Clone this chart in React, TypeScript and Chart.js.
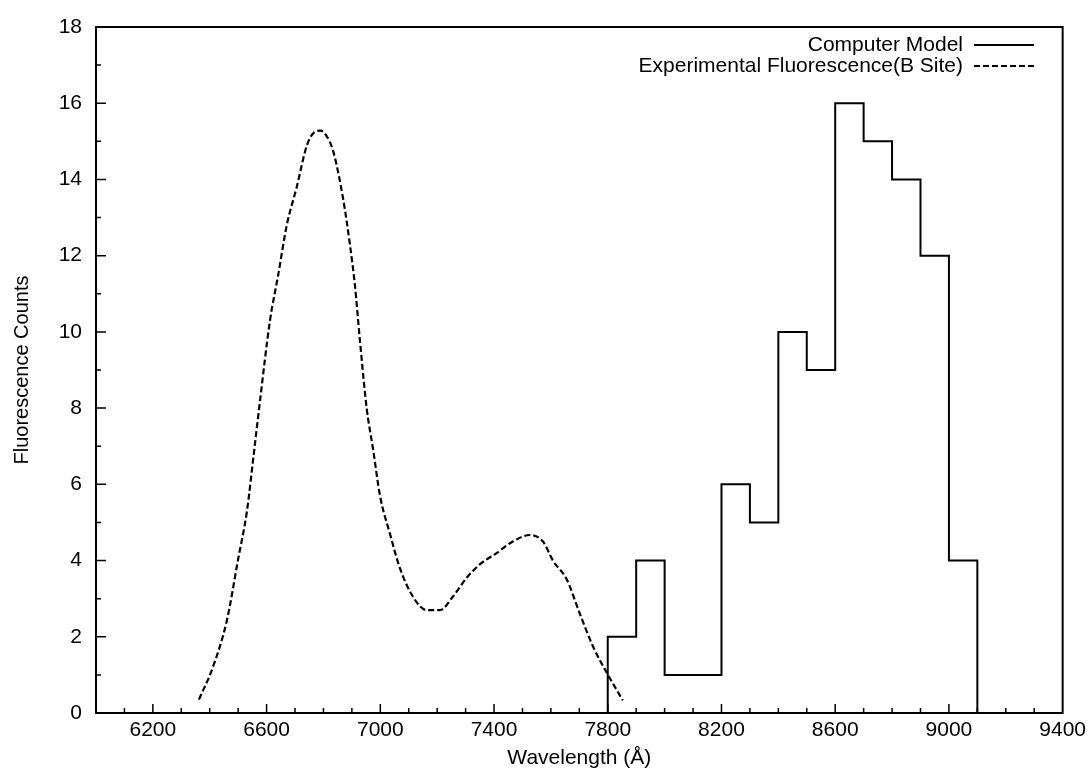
import React, { useEffect, useRef } from "react";
import { Chart, registerables } from "chart.js";

Chart.register(...registerables);

// Axis ranges and labelled ticks
const xMin = 6000;
const xMax = 9400;
const xTickValues = [6200, 6600, 7000, 7400, 7800, 8200, 8600, 9000, 9400];
const yMin = 0;
const yMax = 18;
const yStep = 2;

// Computer model histogram: bin start wavelengths (Å) and counts, 100 Å bins
const binStarts = [7800, 7900, 8000, 8100, 8200, 8300, 8400, 8500, 8600, 8700, 8800, 8900, 9000];
const binCounts = [2, 4, 1, 1, 6, 5, 10, 9, 16, 15, 14, 12, 4];
const binWidth = 100;

// Measured fluorescence spectrum (B site)
const fluorWavelengths = [
  6362, 6411, 6461, 6499, 6531, 6555, 6577, 6612, 6641, 6671, 6706, 6742, 6770, 6790,
  6810, 6834, 6869, 6893, 6911, 6928, 6952, 6975, 6999, 7034, 7069, 7115, 7163, 7210,
  7255, 7304, 7350, 7410, 7466, 7526, 7572, 7607, 7656, 7702, 7748, 7797, 7853,
];
const fluorCounts = [
  0.35, 1.2, 2.45, 4.0, 5.3, 6.8, 8.2, 10.3, 11.5, 12.8, 13.8, 14.9, 15.25, 15.28,
  15.15, 14.75, 13.5, 12.3, 11.2, 9.8, 8.0, 6.9, 5.7, 4.7, 3.8, 3.05, 2.7, 2.7,
  3.05, 3.55, 3.9, 4.2, 4.5, 4.67, 4.5, 4.0, 3.5, 2.6, 1.75, 1.05, 0.33,
];

const seriesNames = ["Computer Model", "Experimental Fluorescence(B Site)"];
const xTitle = "Wavelength (Å)";
const yTitle = "Fluorescence Counts";

const FONT_FAMILY = "'Liberation Sans', Arial, Helvetica, sans-serif";
const INK = "#000";
const DASH = [6, 3];

// Frame, inward tick marks and the top-right key
const framePlugin = {
  id: "frameAndKey",
  afterDatasetsDraw(chart: any) {
    const { ctx, chartArea, scales } = chart;
    const { left, right, top, bottom } = chartArea;
    const xs = scales.x;
    const ys = scales.y;
    ctx.save();
    ctx.strokeStyle = INK;
    ctx.lineWidth = 2;
    ctx.setLineDash([]);
    ctx.strokeRect(left, top, right - left, bottom - top);

    ctx.lineWidth = 1.5;
    ctx.beginPath();
    for (let v = xMin + 100; v < xMax; v += 100) {
      const px = xs.getPixelForValue(v);
      const major = xTickValues.includes(v);
      ctx.moveTo(px, bottom);
      ctx.lineTo(px, bottom - (major ? 9 : 5));
    }
    for (let v = yMin + 1; v < yMax; v += 1) {
      const py = ys.getPixelForValue(v);
      const major = v % yStep === 0;
      ctx.moveTo(left, py);
      ctx.lineTo(left + (major ? 10 : 5), py);
    }
    ctx.stroke();

    // key
    ctx.font = `21px ${FONT_FAMILY}`;
    ctx.fillStyle = INK;
    ctx.textAlign = "right";
    ctx.textBaseline = "middle";
    const textRight = 963;
    const lineStart = 974;
    const lineEnd = 1034;
    const rows = [45, 66];
    seriesNames.forEach((name, i) => {
      ctx.fillText(name, textRight, rows[i]);
      ctx.beginPath();
      ctx.lineWidth = 2;
      ctx.setLineDash(i === 0 ? [] : DASH);
      ctx.moveTo(lineStart, rows[i]);
      ctx.lineTo(lineEnd, rows[i]);
      ctx.stroke();
    });
    ctx.restore();
  },
};

export default function App() {
  const canvasRef = useRef<HTMLCanvasElement | null>(null);

  useEffect(() => {
    document.body.style.margin = "0";
    const canvas = canvasRef.current;
    if (!canvas) return;

    const histPoints = [
      { x: binStarts[0], y: 0 },
      ...binStarts.map((x, i) => ({ x, y: binCounts[i] })),
      { x: binStarts[binStarts.length - 1] + binWidth, y: 0 },
    ];
    const fluorPoints = fluorWavelengths.map((x, i) => ({ x, y: fluorCounts[i] }));

    const tickFont = { family: FONT_FAMILY, size: 21 };

    const chart = new Chart(canvas, {
      type: "line",
      data: {
        datasets: [
          {
            label: seriesNames[0],
            data: histPoints,
            stepped: "before",
            borderColor: INK,
            borderWidth: 2,
            pointRadius: 0,
            fill: false,
          },
          {
            label: seriesNames[1],
            data: fluorPoints,
            borderColor: INK,
            borderWidth: 2.2,
            borderDash: DASH,
            pointRadius: 0,
            cubicInterpolationMode: "monotone",
            fill: false,
          },
        ],
      },
      options: {
        responsive: false,
        animation: false,
        events: [],
        layout: { padding: { top: 27, right: 28, left: 0, bottom: 0 } },
        plugins: {
          legend: { display: false },
          tooltip: { enabled: false },
        },
        scales: {
          x: {
            type: "linear",
            min: xMin,
            max: xMax,
            afterBuildTicks: (scale: any) => {
              scale.ticks = xTickValues.map((value) => ({ value }));
            },
            afterFit: (scale: any) => {
              scale.height = 58;
            },
            ticks: {
              font: tickFont,
              color: INK,
              padding: 5,
              maxRotation: 0,
              autoSkip: false,
              callback: (value: any) => String(value),
            },
            grid: { display: false, drawTicks: false },
            border: { display: false },
            title: {
              display: true,
              text: xTitle,
              color: INK,
              font: tickFont,
              padding: { top: 0, bottom: 0 },
            },
          },
          y: {
            type: "linear",
            min: yMin,
            max: yMax,
            afterFit: (scale: any) => {
              scale.width = 96;
            },
            ticks: {
              stepSize: yStep,
              font: tickFont,
              color: INK,
              padding: 14,
              callback: (value: any) => String(value),
            },
            grid: { display: false, drawTicks: false },
            border: { display: false },
            title: {
              display: true,
              text: yTitle,
              color: INK,
              font: { family: FONT_FAMILY, size: 20 },
              padding: { top: 10, bottom: 0 },
            },
          },
        },
      },
      plugins: [framePlugin],
    });

    return () => chart.destroy();
  }, []);

  return (
    <div style={{ width: 1091, height: 771, background: "#fff" }}>
      <canvas ref={canvasRef} width={1091} height={771} style={{ display: "block" }} />
    </div>
  );
}
